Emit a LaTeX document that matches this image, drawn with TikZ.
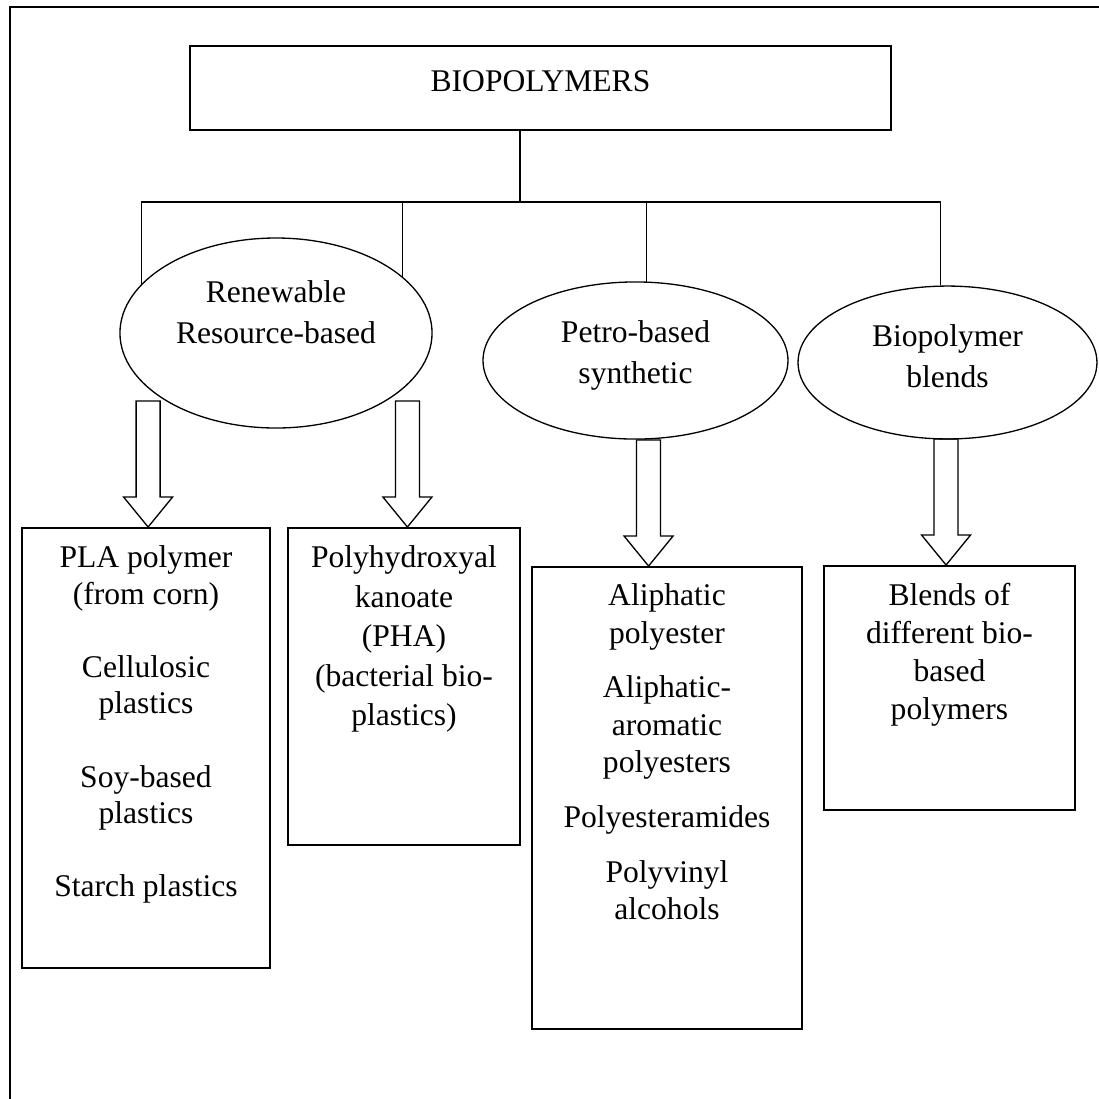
\documentclass[tikz,border=0pt]{standalone}
\usepackage{fontspec}
\setmainfont{Liberation Serif}
\usetikzlibrary{shapes.geometric, fit, positioning}

\tikzset{
  box/.style={draw, line width=0.75pt, inner sep=0pt},
  oval/.style={draw, ellipse, line width=0.5pt, inner sep=0pt},
  lbl/.style={align=center, anchor=north, inner sep=0pt},
  line/.style={line width=0.5pt},
  frame/.style={line width=0.8pt},
}
\newcommand{\hollowarrow}[1]{\draw[line] (#1) -- ++(-24.5,-30) -- ++(12.5,0) -- ++(0,-96) -- ++(24,0) -- ++(0,96) -- ++(12.5,0) -- cycle;}

\begin{document}
\begin{tikzpicture}[x=0.38pt, y=-0.38pt, font=\fontsize{12}{14}\selectfont]

        \useasboundingbox (0,0) rectangle (1099,1099);
        \draw[frame] (10,1120) -- (10,7) -- (1120,7);

        \node[box, minimum width=266.4pt, minimum height=31.9pt, text depth=5pt] (bio) at (540.5,88) {BIOPOLYMERS};

        % the three groups
        \node[oval, minimum width=118.6pt, minimum height=72.2pt] (renew) at (276,333) {};
        \node[oval, minimum width=115.9pt, minimum height=59.7pt] (petro) at (635.5,360.5) {};
        \node[oval, minimum width=113.6pt, minimum height=58.1pt] (blend) at (947.5,362.5) {};
        \node[lbl, font=\fontsize{12}{15.6}\selectfont, below=16.3pt of renew.north] (renewtxt) {Renewable\\Resource-based};
        \node[lbl, font=\fontsize{12}{15.6}\selectfont, below=14.6pt of petro.north] (petrotxt) {Petro-based\\synthetic};
        \node[lbl, font=\fontsize{12}{15.6}\selectfont, below=14.6pt of blend.north] (blendtxt) {Biopolymer\\blends};

        \coordinate (bar) at (520,202);
        \draw[line] (bio.south -| bar) -- (bar);
        \draw[line] (renew.160) -- (renew.160 |- bar) -- (blend.95 |- bar) -- (blend.95);
        \draw[line] (renew.24) -- (renew.24 |- bar);
        \draw[line] (petro.82) -- (petro.82 |- bar);

        % examples
        \node[box, fit={(22,528) (270,968)}] (pla) {};
        \node[box, fit={(288,528) (520,845)}] (pha) {};
        \node[box, fit={(532,567) (802,1029)}] (aliph) {};
        \node[box, fit={(824,566) (1075,810)}] (blendbox) {};

        \node[lbl, font=\fontsize{12}{13.9}\selectfont, below=6.9pt of pla.north] (platxt)
          {PLA polymer\\(from corn)\\[13.9pt]Cellulosic\\plastics\\[13.9pt]Soy-based\\plastics\\[13.9pt]Starch plastics};
        \node[lbl, font=\fontsize{12}{15}\selectfont, below=6.9pt of pha.north] (phatxt)
          {Polyhydroxyal\\kanoate\\(PHA)\\(bacterial bio-\\plastics)};
        \node[lbl, font=\fontsize{12}{14.25}\selectfont, below=6.6pt of aliph.north] (aliphtxt)
          {Aliphatic\\polyester\\[6.5pt]Aliphatic-\\aromatic\\polyesters\\[6.5pt]Polyesteramides\\[6.5pt]Polyvinyl\\alcohols};
        \node[lbl, font=\fontsize{12}{14.4}\selectfont, below=6.9pt of blendbox.north] (blendboxtxt)
          {Blends of\\different bio-\\based\\polymers};

        \hollowarrow{[xshift=0.8pt]pla.north}
        \hollowarrow{[xshift=1.3pt]pha.north}
        \hollowarrow{[xshift=-7pt]aliph.north}
        \hollowarrow{[xshift=-1.3pt]blendbox.north}
        \end{tikzpicture}
\end{document}
